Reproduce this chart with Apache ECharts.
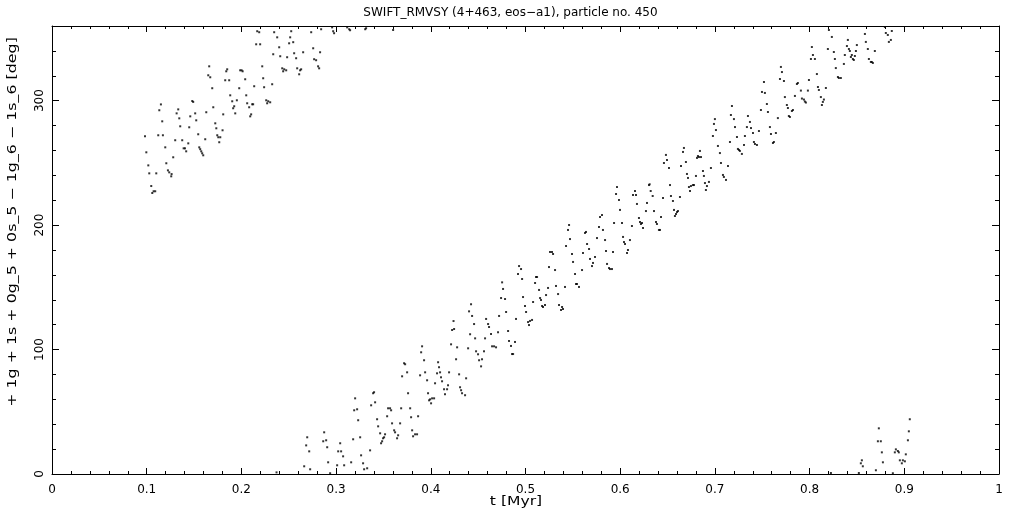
<!DOCTYPE html>
<html>
<head>
<meta charset="utf-8">
<script src="https://cdn.jsdelivr.net/npm/echarts@6/dist/echarts.min.js"></script>
<style>
html,body{margin:0;padding:0;background:#fff;}
#chart{width:1021px;height:511px;}
</style>
</head>
<body>
<div id="chart"></div>
<script>
// ---- data ----
const titleText = 'SWIFT_RMVSY (4+463, eos\u2212a1), particle no. 450';
const xName = 't [Myr]';
const yName = '+ 1g + 1s + 0g_5 + 0s_5 \u2212 1g_6 \u2212 1s_6 [deg]';
const xTicks = [0, 0.1, 0.2, 0.3, 0.4, 0.5, 0.6, 0.7, 0.8, 0.9, 1];
const yTicks = [0, 100, 200, 300];

const times = [
0.0982,0.0996,0.1017,0.1027,0.1048,0.1059,0.1073,0.109,0.1101,0.1122,0.1133,0.115,0.1164,0.1171,0.1196,0.1207,0.1224,0.1238,0.1259,0.1263,
0.128,0.1301,0.1316,0.1333,0.1344,0.1354,0.1375,0.139,0.1404,0.1417,0.1439,0.1449,0.146,0.1481,0.1491,0.1512,0.1523,0.1544,0.1555,0.1565,
0.1576,0.1586,0.1597,0.1618,0.1629,0.165,0.166,0.1671,0.1692,0.1703,0.1724,0.1735,0.1745,0.1756,0.1766,0.1777,0.1801,0.1808,0.1829,0.184,
0.185,0.1871,0.1882,0.1903,0.1913,0.1924,0.1935,0.1952,0.1977,0.1987,0.2002,0.2013,0.204,0.2051,0.2061,0.2082,0.2093,0.2103,0.2114,0.2124,
0.2135,0.2156,0.2167,0.2188,0.2198,0.222,0.223,0.224,0.2262,0.2272,0.2283,0.2304,0.2325,0.2336,0.2346,0.2371,0.2378,0.2399,0.241,0.2431,
0.2441,0.2452,0.2473,0.2483,0.2504,0.2515,0.2526,0.2547,0.2557,0.2578,0.2589,0.261,0.262,0.2631,0.2652,0.2663,0.2684,0.2695,0.2716,0.2726,
0.2737,0.2758,0.2768,0.2789,0.281,0.2821,0.2831,0.2842,0.2864,0.2874,0.2895,0.2906,0.2916,0.2937,0.2958,0.2969,0.2979,0.3011,0.3022,0.3043,
0.3053,0.3074,0.3085,0.3117,0.3138,0.3148,0.3159,0.318,0.3191,0.3201,0.3222,0.3233,0.3254,0.3264,0.3285,0.3296,0.3307,0.3317,0.3328,0.3359,
0.337,0.3391,0.3401,0.3412,0.3433,0.3444,0.3465,0.3475,0.3486,0.3496,0.3507,0.3517,0.3539,0.3549,0.357,0.3581,0.3591,0.3602,0.3613,0.3623,
0.3644,0.3655,0.3676,0.3687,0.3697,0.3718,0.3729,0.375,0.376,0.3782,0.3792,0.3803,0.3813,0.3834,0.3855,0.3866,0.3887,0.3898,0.3908,0.3929,
0.394,0.3961,0.3971,0.3982,0.3993,0.4003,0.4014,0.4035,0.4045,0.4066,0.4077,0.4087,0.4098,0.4108,0.4119,0.414,0.415,0.4172,0.4182,0.4193,
0.4214,0.4225,0.424,0.4246,0.4267,0.4278,0.4299,0.4309,0.432,0.433,0.4362,0.4373,0.4394,0.4404,0.4425,0.4415,0.4436,0.4457,0.4468,0.4478,
0.4499,0.451,0.4531,0.4541,0.4562,0.4573,0.4584,0.4605,0.4615,0.4636,0.4647,0.4668,0.4689,0.471,0.4721,0.4742,0.4753,0.4763,0.4784,0.4795,
0.4816,0.4826,0.4847,0.4858,0.4869,0.4889,0.49,
0.4921,0.4932,0.4953,0.4964,0.4974,0.4995,0.5006,0.5027,0.5037,0.5048,0.5069,0.508,0.5101,0.5111,0.5122,0.5143,0.5154,0.5164,0.5175,0.5185,
0.5206,0.5217,0.5238,0.5248,0.5259,0.528,0.5291,0.5312,0.5322,0.5344,0.5354,0.5375,0.5386,0.5396,0.5417,0.5428,0.5449,0.546,0.547,0.5491,
0.5502,0.5523,0.5533,0.5544,0.5565,0.5597,0.5607,0.5628,0.5639,0.565,0.5671,0.5681,0.5702,0.5713,0.5734,0.5755,0.5776,0.5787,0.5808,0.5818,
0.584,0.585,0.5861,0.5882,0.5892,0.5913,0.5924,0.5935,0.5956,0.5966,0.5987,0.5998,0.6019,0.603,0.604,0.6051,0.6072,0.6082,0.6103,0.6124,
0.6135,0.6156,0.6167,0.6177,0.6198,0.6209,0.6219,0.623,0.6241,0.6272,0.6283,0.6304,
0.6311,0.6322,0.6343,0.6357,0.6378,0.6388,0.6409,0.642,0.6431,0.6452,0.6462,0.6483,0.6494,0.6515,0.6526,0.6536,0.6557,0.6568,0.6578,0.6589,
0.66,0.661,0.6631,0.6642,0.6663,0.6673,0.6694,0.6705,0.6716,0.6726,0.6737,0.6747,0.6768,0.6779,0.68,0.6811,0.6821,0.6832,0.6842,0.6853,
0.6874,0.6884,0.6895,0.6905,0.6916,0.6937,0.6958,0.6979,0.699,0.7,0.7011,0.7032,0.7053,0.7064,0.7085,0.7095,0.7117,0.7138,0.7159,0.7169,
0.718,0.7201,0.7212,0.7233,0.7243,0.7254,0.7264,0.7285,0.7307,0.7317,0.7338,0.7349,0.737,0.7381,0.7402,0.7412,0.7423,0.7444,0.7465,0.7486,
0.7497,0.7518,0.7528,0.7549,0.756,0.7581,0.7592,0.7613,0.7623,0.7644,0.7665,0.7687,0.7697,0.7708,0.7729,0.7739,0.776,0.7771,0.7781,0.7792,
0.7813,0.7824,0.7845,0.7866,0.7876,0.7908,0.7919,0.794,0.795,0.7961,0.7982,0.7993,0.8014,0.8024,0.8035,0.8056,0.8077,0.8088,0.8098,0.8119,
0.813,0.814,0.8151,0.8172,0.8193,0.8204,0.8235,0.8256,0.8267,0.8277,0.8299,0.8309,0.833,0.8362,0.8372,0.8394,0.8404,0.8415,0.8425,0.8436,
0.8446,0.8457,0.8467,0.8478,0.8489,0.8499,0.8584,0.8594,0.8615,0.8626,0.8647,0.8657,0.8668,0.8689,0.8795,0.8805,0.8826,0.8837,0.8858,0.8868,
0.8225,0.852,0.8541,0.8552,0.8562,0.87,0.8721,0.8731,0.8752,0.8763,0.8774,0.8879,0.89,0.8911,0.8932,0.8942,0.8953,0.8974,0.8985,0.9006,
0.9016,0.9038,0.9048,0.9058
];

const angles = [
271.4,258.5,248,241.6,231.4,225.8,227.2,227.2,241.6,272.2,292.3,297,283.4,272.2,262.5,249.7,244,242.4,239.2,241,
254.5,268.2,289.8,293,285.8,279.4,268.2,261.7,261.7,259.3,265.7,278.6,287.4,299.7,299,289.8,284.2,273,262.5,261,
259.3,257.7,256.1,269,290.7,320.4,327.6,318.8,310,294.7,281.8,277.8,272.2,270.6,266.6,270.6,276.2,289,316.4,323.6,
325.2,316.4,304.3,299.5,293.9,295.5,289.8,300.3,310,324.4,324.4,323.6,317.2,304.3,297.9,294.7,287.4,289,297.1,297.1,
311.6,345.3,355.8,355,345.3,327.6,318,310.8,300.3,297.9,299.5,298.7,313.2,337.3,355,1.3,350.9,342.9,335.7,326,
323.6,325.2,324.4,334.9,346.1,350.9,355.8,347,338.1,334.1,326,321.2,324.4,325.2,338.9,6.2,23,29.5,18.2,3.8,
355,342.1,333.3,332.5,327.6,326,338.9,357.4,26.3,33.5,27.1,21.5,9.4,0.6,358.9,355.8,354.2,7,18.2,24.7,
18.2,14.2,7,358.9,357.4,356.6,9.4,27.9,51.2,60.8,52,43.2,29.5,15,8.6,3.8,357.4,358.2,4.6,19,
55.2,64.9,65.7,57.6,44,38.3,32.7,24.7,26.3,28.7,29.5,31.9,46.4,52.8,52.8,51.2,40.7,356.8,35.1,33.5,
28.7,31.1,40.7,52.8,78.5,89,88.2,81.7,64.9,52.8,45.6,35.1,30.3,31.9,31.9,46.4,79.3,97.8,102.6,91.4,
81.7,75.3,64.9,59.2,60,56.8,60.8,60.8,72.9,80.9,89.8,85.8,81.7,77.7,74.5,68.1,64.1,68.1,71.3,81.7,
104.2,115.7,122.9,116.5,92.2,101.8,80.1,69.7,67.3,64.9,63.3,76.9,101,130.7,136.4,112.3,127,120.5,109,98.6,
96.2,91.4,86.5,92.2,98.6,109,124.6,120.5,118.1,112.5,102.6,102.6,101.8,113.9,127,141.4,154,148.7,140.6,130.2,
114.9,106.9,102.9,96.4,96.4,106.1,124.6,
160.7,167.1,164.7,156.7,142.2,135,130.2,122.1,119.7,123,123.8,138.2,153.5,158.3,158.3,147.9,141.4,139.8,135,134.2,
135.8,143.8,149.5,166.3,178.4,178.4,176.8,163.9,151.1,144.6,135.8,131.8,134.2,132.6,150.3,183.2,196.1,200.1,188.8,176.8,
170.4,160.7,152.7,152.7,150.3,163.9,177.6,193.7,194.5,184.8,180.8,172.8,167.1,169.6,174.4,189.6,198.5,206.5,208.1,196.1,
188,179.2,168.8,165.5,164.7,164.7,178.4,201.7,225,230.6,220.2,212.2,201.7,190.5,186.4,184.8,177.6,180,188,199.3,
224.2,227.4,224.2,217,205.7,202.5,200.9,201.7,197.7,211.3,217.8,232.2,
232.8,227.4,223.4,211.3,202.5,200.9,196.1,196.1,206.5,221.8,249.9,256.4,252.3,245.9,232.2,223.4,219.4,212.2,207.3,208.9,
210.5,211.3,222.6,247.5,258.8,262,250.7,241.1,237.9,230.6,227.4,231.4,232.2,232.2,239.5,254,255.5,254.7,259.6,254.7,
243.5,239.5,233.8,228.2,231.4,234.7,245.9,271.6,281.3,285.2,276.4,263.6,257.9,249.9,240.3,238.7,236.3,247.5,266.8,288.5,
295.7,285.2,278.8,270.8,261.2,260.4,259.6,257.2,264.4,271.6,278.8,287.7,282.9,278,274,266.8,265.2,264.4,275.6,292.5,
307,315,306.2,297.3,290.9,278.8,273.2,266,266.8,274,286,317.4,327.1,323,315.8,302.9,296.5,294.1,287.7,286.9,
291.7,292.5,303.8,313.4,314.2,308.1,301.7,300.9,299.3,298.5,308.1,316.6,333.5,343.1,336.7,333.5,321.4,311,308.6,302.9,
296.5,299,300.9,310.2,341.5,356.8,351.2,339.1,333.5,326.2,319,318.2,318.2,329.5,336.7,343.9,348.8,341.5,339.9,335.1,
336.7,333.5,332.7,335.9,339.9,344.7,353.6,347.2,341.5,333.5,331.1,331.1,330.3,339.9,359.2,354.4,352.8,347.2,348.8,356,
0.8,0.8,8.6,11,6.2,3,26.3,36.7,26.3,17.4,9.4,0.6,17.4,19.8,18.5,17.4,11,8.6,11,10.2,
15.8,27.1,34.3,44
];

const points = times.map((t, i) => [t, angles[i]]);

const FONT = 'DejaVu Sans';
const black = '#000';

function majorAxis(pos, isX, showLabel) {
  const a = {
    type: 'value', position: pos,
    min: 0, max: isX ? 1 : 360,
    interval: isX ? 0.1 : 100,
    axisLine: { show: true, onZero: false, lineStyle: { color: black, width: 1 } },
    axisTick: { show: true, inside: true, length: isX ? 6 : 7, lineStyle: { color: black, width: 1 } },
    splitLine: { show: false },
    axisLabel: {
      show: showLabel, color: black, fontFamily: FONT, fontSize: 12,
      margin: isX ? 10 : 6,
      showMaxLabel: isX ? true : false,
      formatter: function (v) {
        if (isX) {
          const s = Number(v.toFixed(1));
          return xTicks.indexOf(s) >= 0 ? String(s) : '';
        }
        return yTicks.indexOf(Math.round(v)) >= 0 ? String(Math.round(v)) : '';
      }
    }
  };
  if (!isX) a.axisLabel.rotate = 90;
  return a;
}
function minorAxis(pos, isX) {
  return {
    type: 'value', position: pos,
    min: 0, max: isX ? 1 : 360,
    interval: isX ? 0.02 : 20,
    axisLine: { show: false, onZero: false },
    axisTick: { show: true, inside: true, length: isX ? 3 : 4, lineStyle: { color: black, width: 1 } },
    splitLine: { show: false },
    axisLabel: { show: false }
  };
}

const chart = echarts.init(document.getElementById('chart'), null, { renderer: 'canvas' });
chart.setOption({
  backgroundColor: '#fff',
  animation: false,
  title: {
    text: titleText, left: 'center', top: 2,
    textStyle: { color: black, fontFamily: FONT, fontSize: 12, fontWeight: 'normal' }
  },
  grid: { left: 52, right: 22, top: 26, bottom: 37, containLabel: false },
  xAxis: [
    majorAxis('bottom', true, true),
    majorAxis('top', true, false),
    minorAxis('bottom', true),
    minorAxis('top', true)
  ],
  yAxis: [
    majorAxis('left', false, true),
    majorAxis('right', false, false),
    minorAxis('left', false),
    minorAxis('right', false)
  ],
  graphic: [
    {
      type: 'text', x: 516, y: 502, scaleX: 1.3,
      style: { text: xName, fill: black, font: '12px "DejaVu Sans"', textAlign: 'center', textVerticalAlign: 'middle' }
    },
    {
      type: 'text', x: 13, y: 222, rotation: Math.PI / 2, scaleX: 1.32,
      style: { text: yName, fill: black, font: '12px "DejaVu Sans"', textAlign: 'center', textVerticalAlign: 'middle' }
    }
  ],
  series: [{
    type: 'scatter',
    xAxisIndex: 0, yAxisIndex: 0,
    symbol: 'rect', symbolSize: 2,
    itemStyle: { color: black },
    data: points
  }]
});
</script>
</body>
</html>
